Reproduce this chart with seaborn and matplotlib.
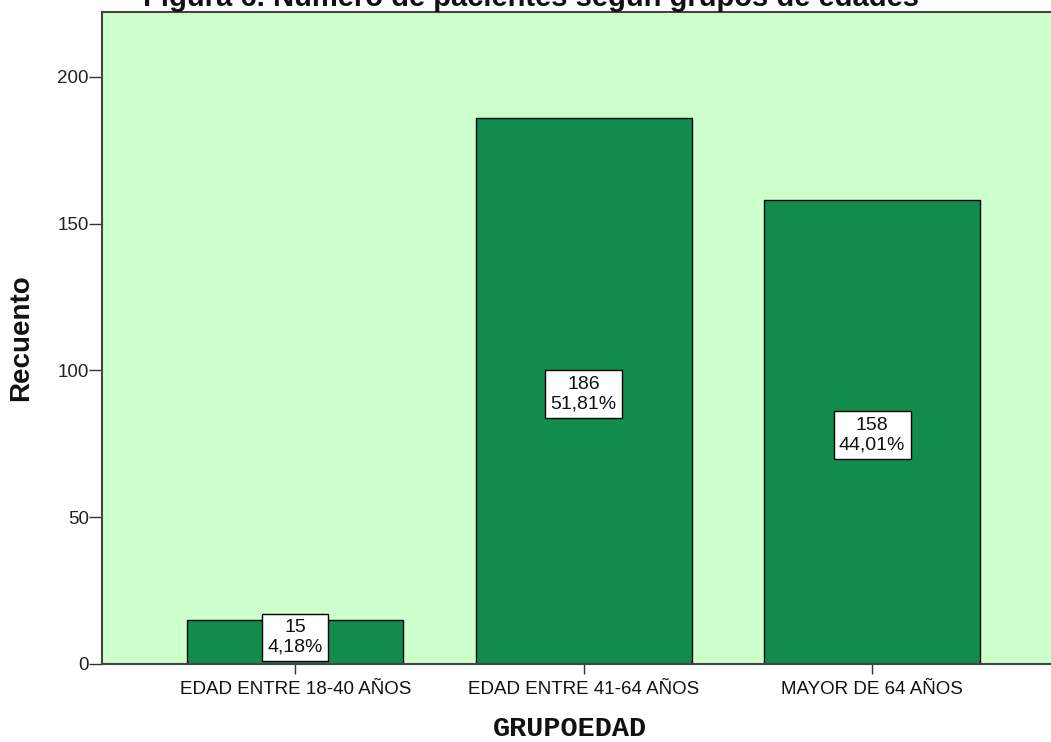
import matplotlib
matplotlib.use("Agg")
import matplotlib.pyplot as plt
import seaborn as sns
import pandas as pd

# datos del gráfico
grupos = ["EDAD ENTRE 18-40 AÑOS", "EDAD ENTRE 41-64 AÑOS", "MAYOR DE 64 AÑOS"]
recuento = [15, 186, 158]
porcentaje = ["4,18%", "51,81%", "44,01%"]
y_ticks = [0, 50, 100, 150, 200]

df = pd.DataFrame({"GRUPOEDAD": grupos, "Recuento": recuento})

sns.set_style("white")
plt.rcParams["font.family"] = ["Liberation Sans", "DejaVu Sans"]

W, H = 1051, 742
fig = plt.figure(figsize=(W / 100, H / 100), dpi=100)
ax = fig.add_axes([102 / W, (H - 664) / H, 1 - 102 / W, (664 - 12) / H])
ax.set_facecolor("#ccffcc")

sns.barplot(data=df, x="GRUPOEDAD", y="Recuento", color="#128c4a",
            saturation=1, width=0.75, edgecolor="black", linewidth=1, ax=ax)

# etiquetas de cada barra (la caja no baja del eje)
for i, (v, p) in enumerate(zip(recuento, porcentaje)):
    ax.text(i, max(v / 2 - 1, 9.0), f"{v}\n{p}", ha="center", va="center",
            fontsize=14, linespacing=1.2, color="#111111",
            bbox=dict(boxstyle="square,pad=0.28", fc="white", ec="black", lw=1))

ax.set_xlim(-0.67, 2.62)
ax.set_ylim(0, 222.1)
ax.set_yticks(y_ticks)
ax.tick_params(axis="y", length=9.5, width=1, color="#333333", labelsize=13.5,
               left=True, pad=0, labelcolor="#222222")
ax.tick_params(axis="x", length=7.5, width=1, color="#333333", labelsize=13.5,
               bottom=True, pad=5, labelcolor="#111111")

for s in ["left", "bottom", "top"]:
    ax.spines[s].set_color("#444444")
    ax.spines[s].set_linewidth(1.5)
ax.spines["right"].set_visible(False)

ax.set_ylabel("Recuento", fontsize=20, fontweight="bold", color="#111111")
ax.yaxis.set_label_coords(-(102 - 34) / (W - 102), 0.5)
ax.set_xlabel("GRUPOEDAD", fontsize=20.5, fontweight="bold", color="#111111",
              family=["Liberation Mono", "DejaVu Sans Mono"])
ax.xaxis.set_label_coords((570 - 102) / (W - 102), -(716 - 664) / (664 - 12))

fig.text(531 / W, 1 - 6 / H, "Figura 6. Número de pacientes según grupos de edades",
         ha="center", va="baseline", fontsize=21, fontweight="bold", color="#111111")

fig.savefig("out.png", dpi=100)
